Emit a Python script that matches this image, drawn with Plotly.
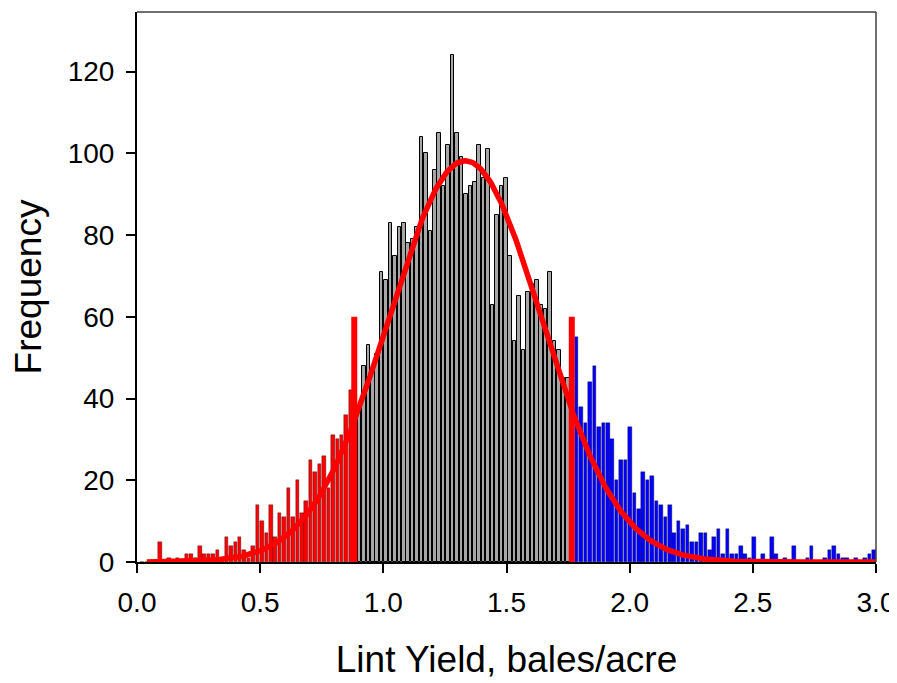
import numpy as np
import plotly.graph_objects as go

# ---------------- data ----------------
BIN_START = 0.012          # left edge of the first bin
BIN_WIDTH = 0.018          # histogram bin width (bales/acre)

# counts of the lower tail (red), bins 0..47
red_counts = [0, 0, 0, 0, 5, 0, 1, 0, 1, 0,
              2, 2, 1, 4, 2, 2, 2, 3, 1, 6,
              4, 5, 6, 3, 1, 4, 14, 10, 7, 14,
              6, 12, 11, 18, 11, 20, 12, 15, 25, 22,
              24, 26, 18, 31, 30, 31, 36, 42]

# counts of the central part (grey), bins 48..97
grey_counts = [59, 38, 48, 53, 47, 51, 71, 69, 83, 75,
               82, 83, 78, 79, 82, 104, 100, 81, 96, 105,
               92, 102, 124, 105, 99, 90, 92, 93, 102, 94,
               101, 63, 85, 92, 94, 75, 54, 65, 52, 66,
               68, 69, 63, 62, 71, 54, 52, 45, 45, 50]

# counts of the upper tail (blue), bins 98..165
blue_counts = [55, 38, 34, 44, 48, 33, 34, 34, 30, 20,
               25, 25, 33, 17, 13, 22, 20, 21, 15, 14,
               11, 14, 7, 10, 8, 9, 5, 5, 7, 7,
               3, 6, 8, 2, 8, 2, 2, 4, 2, 1,
               6, 0, 2, 0, 6, 2, 0, 1, 0, 4,
               0, 0, 1, 4, 0, 0, 1, 3, 4, 2,
               1, 1, 0, 1, 0, 1, 2, 3]

# fitted normal curve parameters
CURVE_MEAN = 1.332
CURVE_SD = 0.311
CURVE_PEAK = 98.2
CURVE_X_MIN = 0.04
CURVE_X_MAX = 3.0

# percentile cut-off markers
cutoff_x = [0.882, 1.765]
CUTOFF_HEIGHT = 60

x_tick_vals = [0.0, 0.5, 1.0, 1.5, 2.0, 2.5, 3.0]
y_tick_vals = [0, 20, 40, 60, 80, 100, 120]

# ---------------- build ----------------
n_red, n_grey, n_blue = len(red_counts), len(grey_counts), len(blue_counts)
centers = BIN_START + BIN_WIDTH * (np.arange(n_red + n_grey + n_blue) + 0.5)
x_red = centers[:n_red]
x_grey = centers[n_red:n_red + n_grey]
x_blue = centers[n_red + n_grey:]

bar_w = BIN_WIDTH * 0.8

fig = go.Figure()
fig.add_trace(go.Bar(x=x_red, y=red_counts, width=bar_w,
                     marker=dict(color="#FF0000", line=dict(color="#300000", width=0.4)),
                     showlegend=False))
fig.add_trace(go.Bar(x=x_grey, y=grey_counts, width=bar_w,
                     marker=dict(color="#A6A6A6", line=dict(color="#000000", width=1)),
                     showlegend=False))
fig.add_trace(go.Bar(x=x_blue, y=blue_counts, width=bar_w,
                     marker=dict(color="#0000FF", line=dict(color="#000030", width=0.4)),
                     showlegend=False))

xc = np.linspace(CURVE_X_MIN, CURVE_X_MAX, 600)
yc = CURVE_PEAK * np.exp(-0.5 * ((xc - CURVE_MEAN) / CURVE_SD) ** 2)
fig.add_trace(go.Scatter(x=xc, y=yc, mode="lines",
                         line=dict(color="#FF0000", width=5.5), showlegend=False))

for cx in cutoff_x:
    fig.add_trace(go.Scatter(x=[cx, cx], y=[0, CUTOFF_HEIGHT], mode="lines",
                             line=dict(color="#FF0000", width=6), showlegend=False))

FONT = "Liberation Sans, Arial, sans-serif"

# the page body has an 8px margin, so the figure is sized/offset accordingly
fig.update_layout(
    width=889, height=675, autosize=False,
    margin=dict(l=128.7, r=20.5, t=4, b=121, autoexpand=False),
    paper_bgcolor="white", plot_bgcolor="white",
    barmode="overlay", bargap=0,
    font=dict(family=FONT, color="black"),
    shapes=[
        dict(type="line", xref="paper", yref="paper", x0=0, x1=1, y0=1, y1=1,
             line=dict(color="#404040", width=1.5)),
        dict(type="line", xref="paper", yref="paper", x0=1, x1=1, y0=0, y1=1,
             line=dict(color="#404040", width=1.5)),
    ],
)
fig.update_xaxes(
    range=[0, 3.0], tickvals=x_tick_vals, tickformat=".1f",
    showgrid=False, zeroline=False,
    showline=True, linecolor="black", linewidth=2,
    ticks="outside", ticklen=9, tickwidth=2, tickcolor="black",
    ticklabelstandoff=5,
    tickfont=dict(size=28, family=FONT, color="black"),
    title=dict(text="Lint Yield, bales/acre", font=dict(size=37, family=FONT, color="black"),
               standoff=30),
)
fig.update_yaxes(
    range=[0, 134.6], tickvals=y_tick_vals,
    showgrid=False, zeroline=False,
    showline=True, linecolor="black", linewidth=2,
    ticks="outside", ticklen=9, tickwidth=2, tickcolor="black",
    ticklabelstandoff=6,
    tickfont=dict(size=28, family=FONT, color="black"),
    title=dict(text="Frequency", font=dict(size=37, family=FONT, color="black"),
               standoff=15),
)

fig.write_html("out.html")
